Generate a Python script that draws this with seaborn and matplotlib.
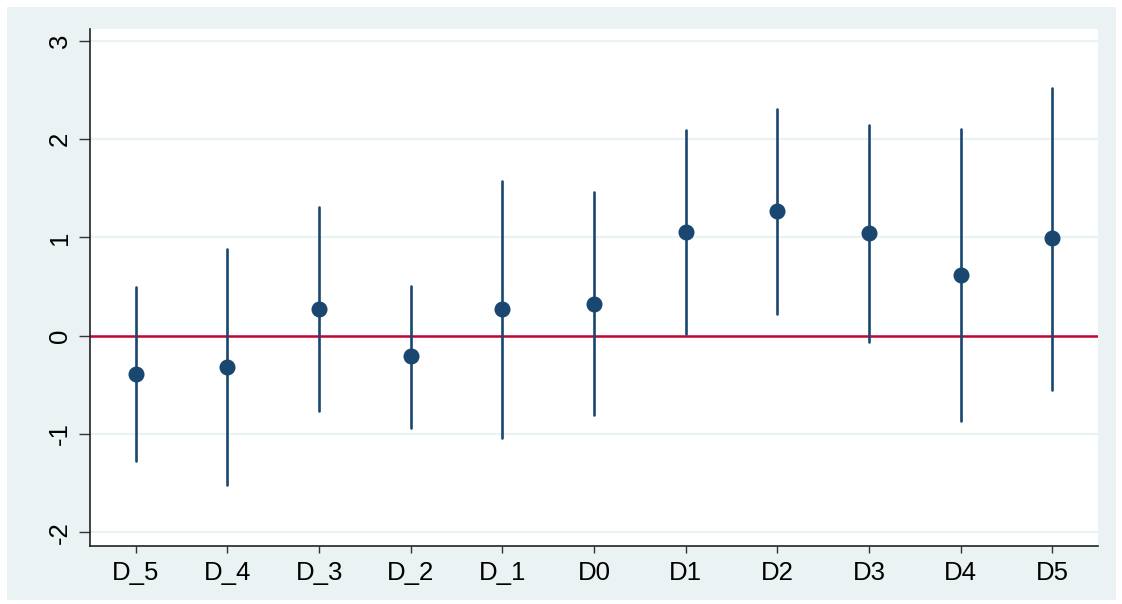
import numpy as np
import pandas as pd
import matplotlib
matplotlib.use("Agg")
import matplotlib.pyplot as plt
from matplotlib.patches import Rectangle
import seaborn as sns

# -----------------------------
# Data
# -----------------------------
periods = ["D_5", "D_4", "D_3", "D_2", "D_1", "D0", "D1", "D2", "D3", "D4", "D5"]
coef = [-0.39, -0.32, 0.27, -0.21, 0.27, 0.32, 1.05, 1.27, 1.04, 0.62, 0.99]
ci_low = [-1.28, -1.52, -0.77, -0.94, -1.04, -0.81, 0.02, 0.22, -0.06, -0.87, -0.55]
ci_high = [0.49, 0.88, 1.31, 0.51, 1.57, 1.46, 2.09, 2.31, 2.14, 2.10, 2.52]

y_ticks = [-2, -1, 0, 1, 2, 3]

# long table: low / estimate / high for every period
df = pd.DataFrame({
    "period": periods * 3,
    "value": ci_low + coef + ci_high,
})

# -----------------------------
# Setup
# -----------------------------
sns.set_theme(style="white")
plt.rcParams["font.family"] = ["Liberation Sans", "DejaVu Sans"]
plt.rcParams["axes.unicode_minus"] = False

navy = "#1a476f"
cranberry = "#c10534"
bluegray = "#eaf2f3"

fig = plt.figure(figsize=(11.22, 6.04), dpi=100, facecolor="white")
fig.patches.append(Rectangle((7 / 1122, 4 / 604), 1109 / 1122, 593 / 604,
                             transform=fig.transFigure, facecolor=bluegray,
                             edgecolor="none", zorder=-10))
ax = fig.add_axes([90 / 1122, 1 - 546 / 604, 1008 / 1122, 517 / 604])
ax.set_facecolor("white")

for t in y_ticks:
    ax.axhline(t, color=bluegray, lw=1.6, zorder=0)
ax.axhline(0, color=cranberry, lw=1.8, zorder=1)

sns.pointplot(data=df, x="period", y="value", order=periods,
              estimator="median", errorbar=lambda v: (v.min(), v.max()),
              color=navy, linestyle="none", marker="o", markersize=9.5,
              err_kws={"linewidth": 1.9}, ax=ax, zorder=3)

ax.set_xlim(-0.5, len(periods) - 0.5)
ax.set_ylim(-2.14, 3.12)
ax.set_yticks(y_ticks)
ax.set_yticklabels([str(t) for t in y_ticks], rotation=90, va="center")
ax.set_xlabel("")
ax.set_ylabel("")

for side in ["top", "right"]:
    ax.spines[side].set_visible(False)
for side in ["left", "bottom"]:
    ax.spines[side].set_color("#222222")
    ax.spines[side].set_linewidth(1.2)

ax.tick_params(axis="y", length=8, width=1, color="#333333", pad=5,
               labelsize=18.5, labelcolor="black", direction="out", left=True)
ax.tick_params(axis="x", length=5, width=1, color="#333333", pad=6,
               labelsize=18.5, labelcolor="black", direction="out", bottom=True)

fig.savefig("out.png", dpi=100, facecolor=fig.get_facecolor())
